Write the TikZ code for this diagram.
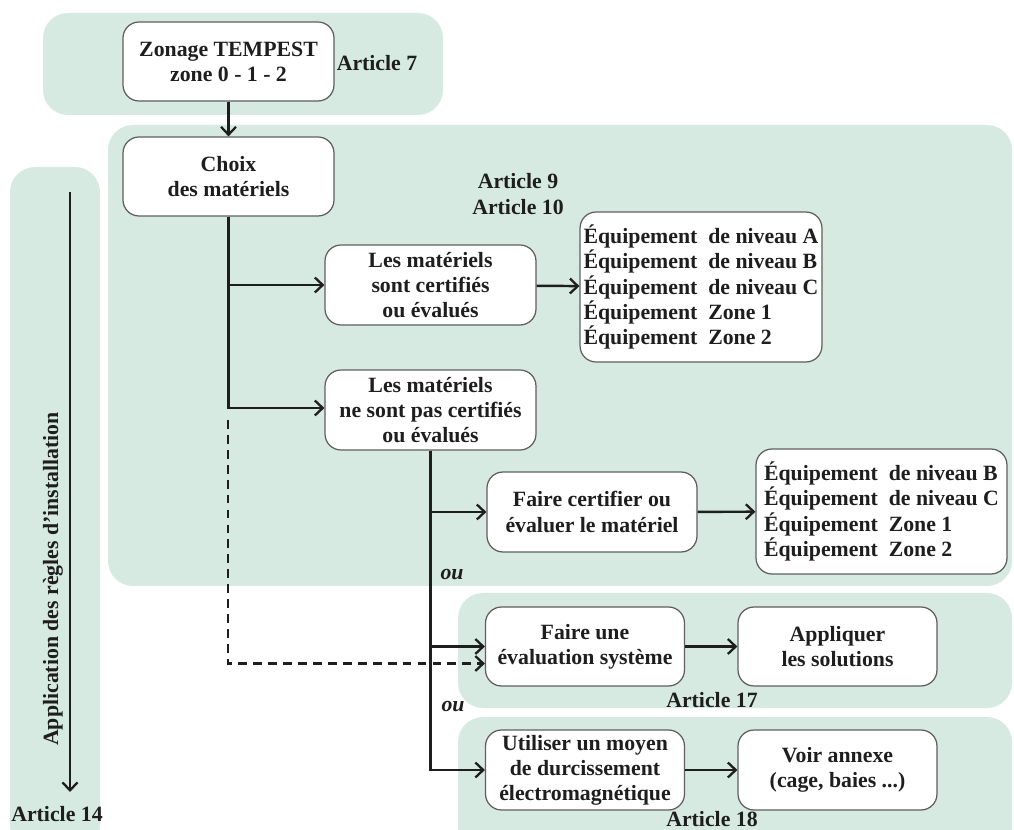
\documentclass[tikz,border=0pt]{standalone}
\usepackage{fontspec}
\setmainfont{Liberation Serif}
\usetikzlibrary{arrows.meta,calc}
\definecolor{panel}{RGB}{214,234,226}
\definecolor{ink}{RGB}{30,30,30}
\definecolor{edge}{RGB}{95,95,95}
\tikzset{
  panelbox/.style={fill=panel, draw=none, rounded corners=0.5cm},
  box/.style={draw=edge, line width=0.7pt, fill=white, rounded corners=0.32cm, align=center, inner sep=2pt,
     font=\bfseries\fontsize{12.4}{14.3}\selectfont, text=ink},
  lbl/.style={font=\bfseries\fontsize{12.4}{14.3}\selectfont, text=ink, align=center, inner sep=0pt},
  oulbl/.style={font=\bfseries\itshape\fontsize{12.4}{14.3}\selectfont, text=ink, inner sep=0pt},
  conn/.style={draw=ink, line width=1.4pt, -{Straight Barb[length=4.5pt,width=8.5pt,line width=1.3pt]}},
  dashconn/.style={conn, dash pattern=on 5pt off 3.5pt}
}
\begin{document}
\begin{tikzpicture}[x=0.02cm,y=-0.02cm]
\useasboundingbox (0,0) rectangle (1014,830);
% panels
\fill[panelbox] (43,13) rectangle (443,115);
\fill[panelbox] (108,125) rectangle (1012,586);
\begin{scope}
\clip (0,0) rectangle (1014,830);
\fill[panelbox] (10,167) rectangle (100,850);
\fill[panelbox] (458,593) rectangle (1012,708);
\fill[panelbox] (458,717) rectangle (1012,860);
\end{scope}

% nodes
\node[box, minimum width=4.22cm, minimum height=1.58cm] (zonage) at (228.5,61.5) {Zonage TEMPEST\\zone 0 - 1 - 2};
\node[lbl] (art7) at (377,63) {Article 7};
\node[box, minimum width=4.22cm, minimum height=1.58cm] (choix) at (228.5,176.5) {Choix\\des matériels};
\node[lbl] (art910) at (518,194) {Article 9\\Article 10};
\node[box, minimum width=4.22cm, minimum height=1.6cm] (cert) at (430.5,285) {Les matériels\\sont certifiés\\ou évalués};
\node[box, minimum width=4.3cm, minimum height=3.0cm, align=left] (eq1) at (701,287) {Équipement~ de niveau A\\Équipement~ de niveau B\\Équipement~ de niveau C\\Équipement~ Zone 1\\Équipement~ Zone 2};
\node[box, minimum width=4.22cm, minimum height=1.6cm] (noncert) at (430.5,410) {Les matériels\\ne sont pas certifiés\\ou évalués};
\node[box, minimum width=4.2cm, minimum height=1.6cm] (faire) at (592,512) {Faire certifier ou\\évaluer le matériel};
\node[box, minimum width=5.02cm, minimum height=2.5cm, align=left] (eq2) at (881.5,511.5) {Équipement~ de niveau B\\Équipement~ de niveau C\\Équipement~ Zone 1\\Équipement~ Zone 2};
\node[box, minimum width=3.98cm, minimum height=1.58cm] (eval) at (585,646.5) {Faire une\\évaluation système};
\node[box, minimum width=3.98cm, minimum height=1.58cm] (appl) at (837.5,646.5) {Appliquer\\les solutions};
\node[lbl] (art17) at (712,700) {Article 17};
\node[box, minimum width=3.98cm, minimum height=1.6cm] (util) at (585,770) {Utiliser un moyen\\de durcissement\\électromagnétique};
\node[box, minimum width=3.98cm, minimum height=1.6cm] (voir) at (837.5,770) {Voir annexe\\(cage, baies ...)};
\node[lbl] (art18) at (712,819) {Article 18};
\node[oulbl] (ou1) at (452,574) {ou};
\node[oulbl] (ou2) at (453,706) {ou};
\node[lbl, rotate=90] (appli) at (53,579) {Application des règles d’installation};
\node[lbl] (art14) at (57,814) {Article 14};

% connectors
\coordinate (ltop) at (70,192);
\coordinate (lbot) at (70,792);
\draw[conn] (ltop) -- (lbot);
\draw[conn] (zonage) -- (choix);
\draw[conn] (choix.south) |- (cert.west);
\draw[conn] (choix.south) |- ($(noncert.west)+(0,-2)$);
\draw[conn] (cert) -- (eq1);
\draw[conn] (noncert.south) |- (faire.west);
\draw[conn] (noncert.south) |- (eval.west);
\draw[conn] (noncert.south) |- (util.west);
\draw[conn] (faire) -- (eq2);
\draw[conn] (eval) -- (appl);
\draw[conn] (util) -- (voir);
\coordinate (dstart) at (228,420);
\draw[dashconn] (dstart) |- ($(eval.west)+(0,17)$);
\end{tikzpicture}
\end{document}
